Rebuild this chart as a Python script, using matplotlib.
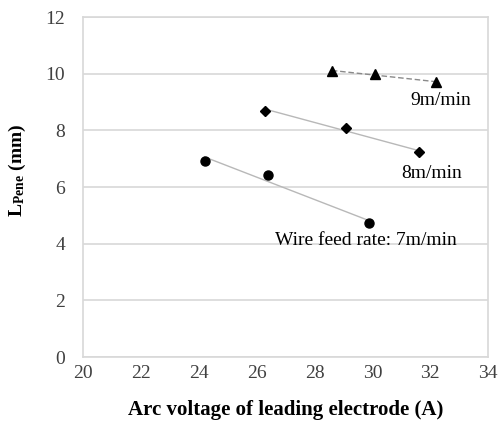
import matplotlib
matplotlib.use('Agg')
import matplotlib.pyplot as plt
import numpy as np

plt.rcParams['font.family'] = 'Liberation Serif'
plt.rcParams['mathtext.fontset'] = 'custom'
plt.rcParams['mathtext.rm'] = 'Liberation Serif'
plt.rcParams['mathtext.bf'] = 'Liberation Serif:bold'

# wire feed 7 m/min
v7 = [24.2, 26.4, 29.9]
l7 = [6.92, 6.42, 4.72]
# wire feed 8 m/min
v8 = [26.3, 29.1, 31.6]
l8 = [8.69, 8.1, 7.22]
# wire feed 9 m/min
v9 = [28.6, 30.1, 32.2]
l9 = [10.09, 9.99, 9.7]

fig = plt.figure(figsize=(4.98, 4.33), dpi=100)
ax = fig.add_axes([0.1667, 0.1755, 0.8133, 0.7852])


def trend(x, y, **kw):
    # linear trendline like in the spreadsheet
    k, b = np.polyfit(x, y, 1)
    xs = np.array([x[0], x[-1]])
    ax.plot(xs, k * xs + b, zorder=2, **kw)


trend(v7, l7, color='#b8b8b8', lw=1)
ax.plot(v7, l7, 'o', color='black', ms=6.5, zorder=3)
trend(v8, l8, color='#b8b8b8', lw=1)
ax.plot(v8, l8, 'D', color='black', ms=5, zorder=3)
trend(v9, l9, color='#8a8a8a', lw=1, ls=(0, (4, 2)))
ax.plot(v9, l9, '^', color='black', ms=7, zorder=3)

ax.text(32.35, 9.07, '9m/min', ha='center', va='center', fontsize=14)
ax.text(32.06, 6.48, '8m/min', ha='center', va='center', fontsize=14)
ax.text(29.76, 4.1, 'Wire feed rate: 7m/min', ha='center', va='center', fontsize=14)

ax.set_xlim(20, 34)
ax.set_ylim(0, 12)
ax.set_xticks(range(20, 35, 2))
ax.set_yticks(range(0, 13, 2))
ax.tick_params(length=0, labelsize=14, colors='#404040')
ax.tick_params(axis='x', pad=6)
ax.tick_params(axis='y', pad=13)
ax.yaxis.grid(True, color='#d8d8d8', lw=1.2)
ax.set_axisbelow(True)
for s in ax.spines.values():
    s.set_color('#d8d8d8')
    s.set_linewidth(1.2)

ax.set_xlabel('Arc voltage of leading electrode (A)', fontsize=15, fontweight='bold', labelpad=13)
ax.set_ylabel(r'$\mathbf{L_{Pene}}$ $\mathbf{(mm)}$', fontsize=14)
ax.yaxis.set_label_coords(-0.135, 0.55)

fig.savefig('out.png', dpi=100)
